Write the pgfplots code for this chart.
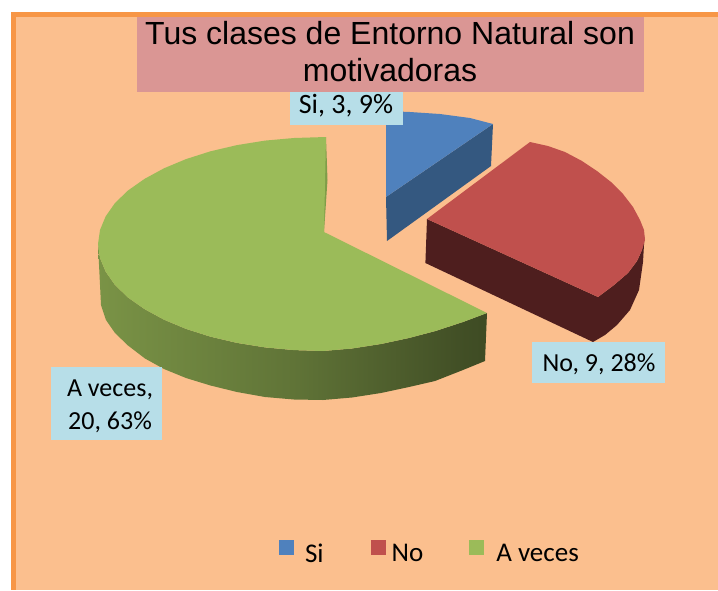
\documentclass[border=0pt]{standalone}
\usepackage{pgfplots}
\pgfplotsset{compat=1.18}
\usepackage{fontspec}
\setmainfont{Carlito}
\newfontfamily\titlefont{Liberation Sans}
\definecolor{framecol}{HTML}{F79646}
\definecolor{bgcol}{HTML}{FBBF8E}
\definecolor{titlebox}{HTML}{DA9694}
\definecolor{labelbox}{HTML}{B7DEE8}
\definecolor{sitop}{HTML}{4F81BD}
\definecolor{siside}{HTML}{345880}
\definecolor{notop}{HTML}{C0504D}
\definecolor{noside}{HTML}{4E1E1E}
\definecolor{avtop}{HTML}{9BBB59}
\definecolor{avinner}{HTML}{7F9D48}
\pgfdeclarehorizontalshading{avside}{100bp}{
  color(0bp)=(avtop!85!black);
  color(20bp)=(avtop!82!black);
  color(50bp)=(avtop!62!black);
  color(72bp)=(avtop!42!black);
  color(79bp)=(avtop!38!black);
  color(100bp)=(avtop!38!black)}
\begin{document}
\begin{tikzpicture}
\begin{axis}[
  scale only axis,
  width=718pt,
  height=590pt,
  xmin=0, xmax=718,
  ymin=0, ymax=590,
  y dir=reverse,
  hide axis,
  legend style={at={(axis cs:279,552)}, anchor=west, legend columns=3, draw=none, fill=none,
    inner sep=0pt, outer sep=0pt, nodes={inner sep=0pt, outer sep=0pt},
    font=\fontsize{27}{30}\selectfont,
    /tikz/column 1/.style={column sep=11pt},
    /tikz/column 2/.style={column sep=47pt},
    /tikz/column 3/.style={column sep=6pt},
    /tikz/column 4/.style={column sep=46pt},
    /tikz/column 5/.style={column sep=12pt}},
  legend image code/.code={\fill[#1] (0pt,-2pt) rectangle (15pt,13pt);},
]
% page, frame and background
\addplot[draw=none, fill=white, forget plot] coordinates {(0,0) (718,0) (718,590) (0,590)} -- cycle;
\addplot[draw=none, fill=framecol, forget plot] coordinates {(11,12) (718,12) (718,590) (11,590)} -- cycle;
\addplot[draw=none, fill=bgcol, forget plot] coordinates {(16,17) (718,17) (718,590) (16,590)} -- cycle;
% Si
\addplot[draw=none, fill=siside, forget plot] coordinates {(386,197) (493,124) (491,166) (387,241)} -- cycle;
\addplot[draw=none, fill=sitop] coordinates {(386,197) (386,111) (410,112) (440,114) (470,118) (493,124)} -- cycle;
\addlegendentry{Si}
% No
\addplot[draw=none, fill=noside, forget plot] coordinates {(427,219) (598,297) (614,285) (628,273) (637,261) (642,250) (644.5,236) (643,262) (639,290) (630,310) (617,325) (605,335) (593,342) (425.4,263)} -- cycle;
\addplot[draw=none, fill=notop] coordinates {(427,219) (530,142) (548,146) (565,152) (582,161) (597,171) (611,182) (623,194) (633,207) (640,220) (644,230) (645,240) (642,250) (637,261) (628,273) (614,285) (598,297)} -- cycle;
\addlegendentry{No}
% A veces
\addplot[draw=none, shade, shading=avside, forget plot] coordinates {(98,244) (100,258) (105.7,271.7) (115,285) (128,297.5) (144.5,309.1) (164,319.7) (186,328.9) (210.5,336.7) (237,342.9) (265,347.4) (294,350.1) (323,351) (352,348.5) (381,344) (409,338) (435.5,331) (463,322) (487,313) (485,361) (463,370) (435,381) (409,387) (381,393) (352,397.5) (323,400) (294,399.5) (265,397) (237,392) (210.5,385.5) (186,378) (164,369) (145,358.5) (128,345.5) (115,333) (106,320) (101,305)} -- cycle;
\addplot[draw=none, fill=avinner, forget plot] coordinates {(326,137) (327.5,180) (324,232) (320,200)} -- cycle;
\addplot[draw=none, fill=avtop] coordinates {(324,232) (326,137) (294,138) (265,140.6) (237,145.1) (210.5,151.3) (186,159.1) (164,168.3) (144.5,178.9) (128,190.5) (115,203) (105.7,216.3) (100,230) (98,244) (100,258) (105.7,271.7) (115,285) (128,297.5) (144.5,309.1) (164,319.7) (186,328.9) (210.5,336.7) (237,342.9) (265,347.4) (294,350.1) (323,351) (352,348.5) (381,344) (409,338) (435.5,331) (463,322) (487,313)} -- cycle;
\addlegendentry{A veces}
% title and data labels
\fill[titlebox] (axis cs:137,17) rectangle (axis cs:644,92);
\node[align=center, font=\titlefont\fontsize{32}{37}\selectfont] at (axis cs:390,52) {Tus clases de Entorno Natural son\\motivadoras};
\fill[labelbox] (axis cs:290,92) rectangle (axis cs:403,125);
\node[font=\fontsize{28}{30}\selectfont] at (axis cs:346,106) {Si, 3, 9\%};
\fill[labelbox] (axis cs:532,342) rectangle (axis cs:665,383);
\node[font=\fontsize{26}{30}\selectfont] at (axis cs:599,364) {No, 9, 28\%};
\fill[labelbox] (axis cs:51,367) rectangle (axis cs:162,440);
\node[align=center, font=\fontsize{26}{33}\selectfont] at (axis cs:110,406) {A veces,\\20, 63\%};
\end{axis}
\end{tikzpicture}
\end{document}
